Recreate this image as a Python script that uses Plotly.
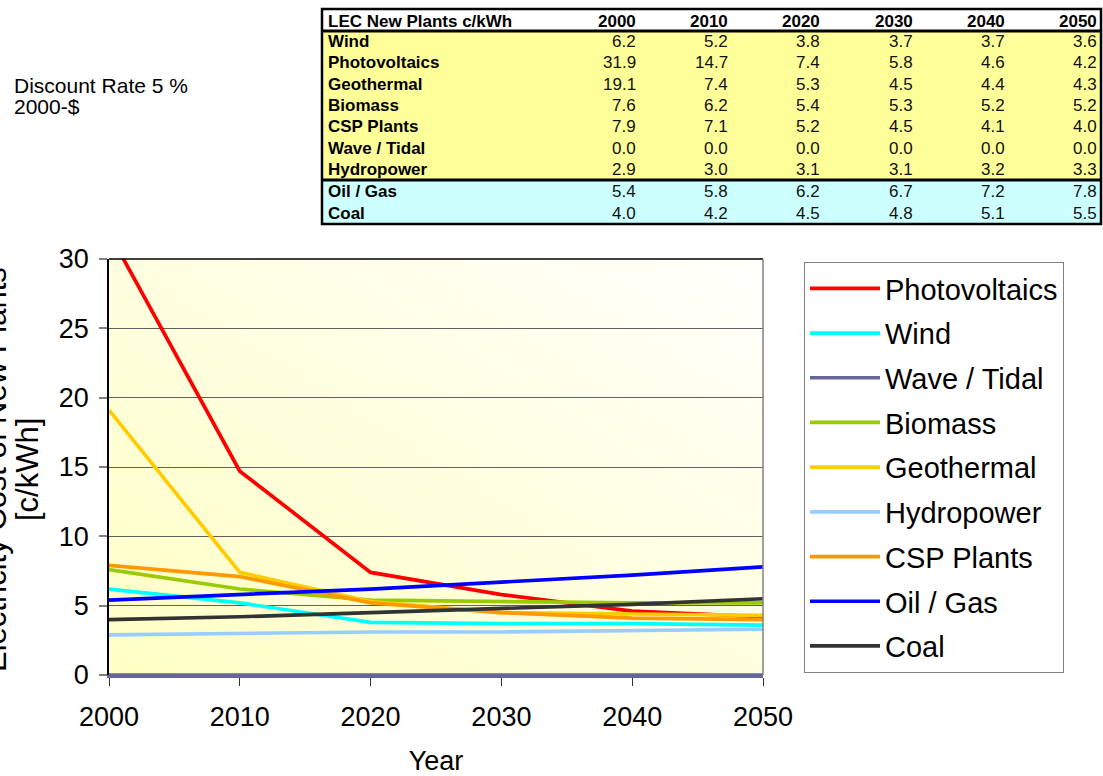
import base64
import plotly.graph_objects as go

W, H = 1103, 776
FONT = "Liberation Sans, Arial, sans-serif"

# ---------------- data ----------------
years = [2000, 2010, 2020, 2030, 2040, 2050]
table_title = "LEC New Plants c/kWh"
table_rows = ["Wind", "Photovoltaics", "Geothermal", "Biomass", "CSP Plants",
              "Wave / Tidal", "Hydropower", "Oil / Gas", "Coal"]
wind = [6.2, 5.2, 3.8, 3.7, 3.7, 3.6]
photovoltaics = [31.9, 14.7, 7.4, 5.8, 4.6, 4.2]
geothermal = [19.1, 7.4, 5.3, 4.5, 4.4, 4.3]
biomass = [7.6, 6.2, 5.4, 5.3, 5.2, 5.2]
csp_plants = [7.9, 7.1, 5.2, 4.5, 4.1, 4.0]
wave_tidal = [0.0, 0.0, 0.0, 0.0, 0.0, 0.0]
hydropower = [2.9, 3.0, 3.1, 3.1, 3.2, 3.3]
oil_gas = [5.4, 5.8, 6.2, 6.7, 7.2, 7.8]
coal = [4.0, 4.2, 4.5, 4.8, 5.1, 5.5]
legend_order = ["Photovoltaics", "Wind", "Wave / Tidal", "Biomass", "Geothermal",
                "Hydropower", "CSP Plants", "Oil / Gas", "Coal"]
note_lines = ["Discount Rate 5 %", "2000-$"]
x_title = "Year"
y_title_lines = ["Electricity Cost of New Plants", "[c/kWh]"]

series = {
    "Wind": wind, "Photovoltaics": photovoltaics, "Geothermal": geothermal,
    "Biomass": biomass, "CSP Plants": csp_plants, "Wave / Tidal": wave_tidal,
    "Hydropower": hydropower, "Oil / Gas": oil_gas, "Coal": coal,
}
colors = {
    "Photovoltaics": "#FF0000", "Wind": "#00FFFF", "Wave / Tidal": "#666699",
    "Biomass": "#99CC00", "Geothermal": "#FFCC00", "Hydropower": "#99CCFF",
    "CSP Plants": "#FF9900", "Oil / Gas": "#0000FF", "Coal": "#333333",
}
renewable_fill = "#FFFF99"
fossil_fill = "#CCFFFF"
n_renewable = 7


def px(x):
    return x / W


def py(y):
    return 1 - y / H


# plot area in page pixels
PL, PR, PT, PB = 109, 763, 259, 675

fig = go.Figure()
for name in legend_order:
    fig.add_trace(go.Scatter(
        x=years, y=series[name], mode="lines", name=name, legendgroup=name,
        line=dict(color=colors[name], width=3.7),
    ))

shapes = []
annotations = []

# ---------------- table (shapes + text built from the arrays) ----------------
TL, TR = 322, 1101
T_TOP, T_HEAD, T_SEP, T_BOT = 9, 31, 180, 224
row_h_r = (T_SEP - T_HEAD) / n_renewable
row_h_f = (T_BOT - T_SEP) / (len(table_rows) - n_renewable)
col_right = [638 + i * 92.2 for i in range(len(years))]
LABEL_X = 326
tfont_b = dict(family=FONT, size=17, color="black")

shapes.append(dict(type="rect", xref="paper", yref="paper", x0=px(TL), x1=px(TR),
                   y0=py(T_SEP), y1=py(T_HEAD), fillcolor=renewable_fill, line=dict(width=0),
                   layer="below"))
shapes.append(dict(type="rect", xref="paper", yref="paper", x0=px(TL), x1=px(TR),
                   y0=py(T_BOT), y1=py(T_SEP), fillcolor=fossil_fill, line=dict(width=0),
                   layer="below"))
shapes.append(dict(type="rect", xref="paper", yref="paper", x0=px(TL), x1=px(TR),
                   y0=py(T_BOT), y1=py(T_TOP), line=dict(color="black", width=2.5)))
for yy in (T_HEAD, T_SEP):
    shapes.append(dict(type="line", xref="paper", yref="paper", x0=px(TL), x1=px(TR),
                       y0=py(yy), y1=py(yy), line=dict(color="black", width=3)))

head_y = (T_TOP + T_HEAD) / 2 + 1
annotations.append(dict(text="<b>%s</b>" % table_title, x=px(LABEL_X), y=py(head_y),
                        xref="paper", yref="paper", xanchor="left", yanchor="middle",
                        showarrow=False, font=tfont_b))
for j, yr in enumerate(years):
    annotations.append(dict(text="<b>%d</b>" % yr, x=px(col_right[j]), y=py(head_y),
                            xref="paper", yref="paper", xanchor="right", yanchor="middle",
                            showarrow=False, font=tfont_b))
for i, rname in enumerate(table_rows):
    if i < n_renewable:
        cy = T_HEAD + (i + 0.5) * row_h_r
    else:
        cy = T_SEP + (i - n_renewable + 0.5) * row_h_f
    annotations.append(dict(text="<b>%s</b>" % rname, x=px(LABEL_X), y=py(cy),
                            xref="paper", yref="paper", xanchor="left", yanchor="middle",
                            showarrow=False, font=tfont_b))
    for j in range(len(years)):
        annotations.append(dict(text="%.1f" % series[rname][j], x=px(col_right[j]), y=py(cy),
                                xref="paper", yref="paper", xanchor="right", yanchor="middle",
                                showarrow=False, font=dict(family=FONT, size=17, color="#111111")))

# ---------------- background gradient ----------------
gw, gh = PR - PL, PB - PT
svg = ('<svg xmlns="http://www.w3.org/2000/svg" width="%d" height="%d" viewBox="0 0 %d %d" '
       'preserveAspectRatio="none"><defs><linearGradient id="g" x1="0" y1="1" x2="1" y2="0">'
       '<stop offset="0" stop-color="#FFFFC4"/><stop offset="1" stop-color="#FFFFFC"/>'
       '</linearGradient></defs><rect width="%d" height="%d" fill="url(#g)"/></svg>'
       % (gw, gh, gw, gh, gw, gh))
src = "data:image/svg+xml;base64," + base64.b64encode(svg.encode()).decode()

# plot frame top / right
shapes.append(dict(type="line", xref="paper", yref="paper", x0=px(PL), x1=px(PR),
                   y0=py(PT), y1=py(PT), line=dict(color="black", width=1.5)))
shapes.append(dict(type="line", xref="paper", yref="paper", x0=px(PR), x1=px(PR),
                   y0=py(PT), y1=py(PB), line=dict(color="#808080", width=1.5)))

# ---------------- other texts ----------------
for k, line in enumerate(note_lines):
    annotations.append(dict(text=line, x=px(12), y=py(85 + 22 * k), xref="paper", yref="paper",
                            xanchor="left", yanchor="middle", showarrow=False,
                            font=dict(family=FONT, size=21, color="black")))
for k, line in enumerate(y_title_lines):
    annotations.append(dict(text=line, textangle=-90, x=px(-4 + 32 * k), y=py((PT + PB) / 2 + 3),
                            xref="paper", yref="paper", xanchor="center", yanchor="middle",
                            showarrow=False, font=dict(family=FONT, size=31, color="black")))

fig.update_layout(
    width=W, height=H,
    margin=dict(l=0, r=0, t=0, b=0),
    paper_bgcolor="white", plot_bgcolor="rgba(0,0,0,0)",
    font=dict(family=FONT, color="black"),
    xaxis=dict(domain=[px(PL), px(PR)], range=[2000, 2050], tickvals=years,
               ticks="outside", ticklen=8, tickcolor="#333333", tickwidth=1,
               tickfont=dict(size=27), ticklabelstandoff=8, showgrid=False, zeroline=False,
               showline=True, linecolor="#666699", linewidth=2.5, automargin=False,
               title=dict(text=x_title, font=dict(size=27), standoff=20)),
    yaxis=dict(domain=[py(PB), py(PT)], range=[0, 30], dtick=5,
               ticks="outside", ticklen=8, tickcolor="#808080", tickwidth=1.5,
               tickfont=dict(size=27), ticklabelstandoff=5, showgrid=True,
               gridcolor="#606060", gridwidth=1,
               zeroline=False, showline=True, linecolor="black", linewidth=1.5,
               automargin=False),
    legend=dict(x=px(804), y=py(262), xanchor="left", yanchor="top",
                bgcolor="white", bordercolor="#808080", borderwidth=1,
                font=dict(size=29, family=FONT), tracegroupgap=4, itemwidth=70),
    showlegend=True,
    images=[dict(source=src, xref="x domain", yref="y domain", x=0, y=1, sizex=1, sizey=1,
                 sizing="stretch", layer="below", xanchor="left", yanchor="top")],
    shapes=shapes,
    annotations=annotations,
)

fig.write_html("out.html", config={"displayModeBar": False},
               post_script="document.body.style.margin='0';")
